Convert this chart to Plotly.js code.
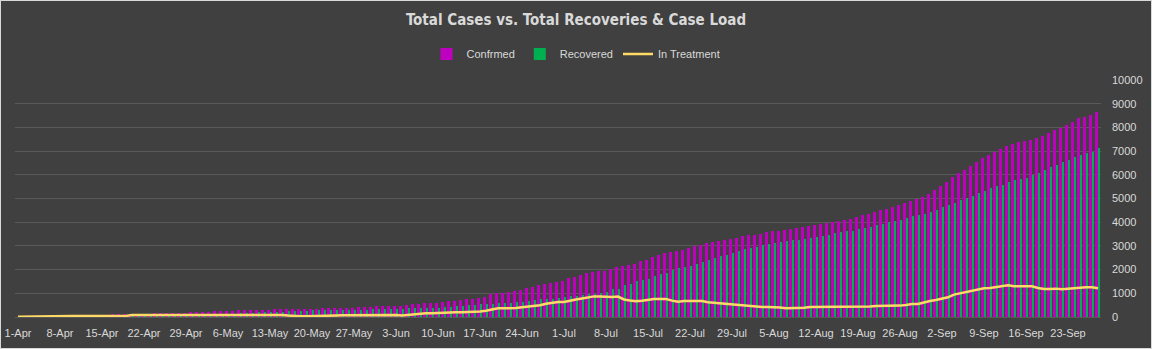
<!DOCTYPE html>
<html>
<head>
<meta charset="utf-8">
<script src="https://cdn.plot.ly/plotly-3.0.1.min.js"></script>
<style>
html,body{margin:0;padding:0;background:#404040;}
#wrap{position:relative;width:1152px;height:349px;}
#chart{width:1152px;height:349px;}
#frame{position:absolute;left:0;top:0;width:1152px;height:349px;box-sizing:border-box;border:1px solid #d9d9d9;pointer-events:none;}
.barlayer .point path{shape-rendering:crispEdges;}
</style>
</head>
<body>
<div id="wrap"><div id="chart"></div><div id="frame"></div></div>
<script>
// Daily series, 1-Apr .. 28-Sep
const startDate = {year: 2020, month: 3, day: 1}; // month 0-based: April
const dayCount = 181;
const monthNames = ['Jan','Feb','Mar','Apr','May','Jun','Jul','Aug','Sep','Oct','Nov','Dec'];

const confirmed = [
8,8,9,10,10,12,14,20,40,45,
50,52,55,58,60,100,110,112,115,140,
142,145,145,148,150,155,180,185,190,195,
200,210,225,235,242,250,265,275,282,288,
295,305,312,318,322,326,330,335,340,348,
355,362,368,375,380,388,398,408,418,440,
450,455,458,462,480,495,530,560,575,585,
612,628,660,695,712,740,755,790,865,950,
1000,1030,1050,1085,1130,1205,1255,1330,1380,1424,
1466,1508,1635,1677,1762,1846,1889,1931,1950,2015,
2100,2142,2184,2227,2353,2396,2522,2607,2691,2734,
2776,2818,2902,2987,3029,3114,3156,3198,3240,3283,
3325,3410,3452,3460,3494,3579,3621,3630,3663,3705,
3748,3790,3832,3874,3917,3959,4001,4043,4086,4128,
4212,4297,4339,4423,4508,4550,4635,4719,4804,4888,
4960,5057,5184,5353,5522,5691,5902,6057,6198,6367,
6536,6705,6832,6973,7085,7212,7297,7381,7437,7480,
7550,7635,7762,7889,7973,8100,8227,8396,8438,8523,
8650];

const recovered = [
0,0,0,0,1,1,2,2,3,4,
6,8,10,12,15,18,20,22,25,30,
35,40,42,45,48,50,52,55,58,60,
70,80,90,100,110,120,135,150,165,180,
195,200,210,220,230,240,250,260,270,278,
282,286,290,294,298,302,306,310,316,322,
324,326,328,330,335,360,365,368,370,375,
400,410,415,445,455,490,498,530,538,545,
575,580,590,615,625,660,700,740,750,760,
790,832,870,880,917,955,965,1001,1044,1165,
1175,1339,1381,1508,1550,1593,1719,1804,1846,1973,
2058,2100,2142,2227,2311,2396,2480,2565,2607,2691,
2776,2860,2902,2945,3029,3071,3114,3156,3198,3235,
3245,3283,3325,3367,3410,3452,3536,3579,3615,3625,
3705,3748,3790,3874,3917,4001,4043,4086,4170,4255,
4297,4339,4423,4508,4635,4719,4804,4930,5015,5100,
5226,5311,5438,5522,5564,5691,5776,5818,5860,5987,
6071,6198,6325,6409,6536,6621,6747,6832,6916,6958,
7128];

const inTreatment = [
7,7,8,9,8,10,11,15,35,38,
40,42,42,43,43,45,45,45,45,85,
85,88,90,90,92,92,95,95,95,95,
95,95,100,100,100,100,100,100,100,100,
100,95,95,90,85,60,40,35,35,35,
35,35,40,60,70,70,80,80,90,101,
101,101,101,80,59,90,114,140,156,156,
170,190,199,199,199,199,199,230,260,300,
368,368,368,380,410,430,460,494,560,600,
634,634,700,740,780,830,870,860,845,845,
860,740,700,670,690,740,760,760,760,690,
640,670,676,676,670,620,595,591,550,524,
510,480,450,430,423,423,423,400,370,368,
368,390,423,423,423,423,423,423,423,423,
423,423,440,465,465,465,465,480,507,549,
549,620,676,718,790,832,945,1000,1042,1113,
1170,1212,1225,1254,1296,1339,1296,1296,1296,1296,
1225,1183,1183,1197,1170,1197,1212,1254,1254,1254,
1212];

const yTicks = [0,1000,2000,3000,4000,5000,6000,7000,8000,9000,10000];
const yTickText = ['0','1000','2000','3000','4000','5000','6000','7000','8000','9000','10000'];

// category labels (d-Mon)
const days = [];
for (let i = 0; i < dayCount; i++) {
  const d = new Date(startDate.year, startDate.month, startDate.day + i);
  days.push(d.getDate() + '-' + monthNames[d.getMonth()]);
}
const tickLabels = days.filter((_, i) => i % 7 === 0);

const txt = '#d9d9d9';
const traces = [
  {type:'bar', name:'Confrmed', x:days, y:confirmed, marker:{color:'#c000c0', line:{width:0}}, width:0.5, offset:-0.5},
  {type:'bar', name:'Recovered', x:days, y:recovered, marker:{color:'#00b050', line:{width:0}}, width:1/3, offset:0},
  {type:'scatter', mode:'lines', name:'In Treatment', x:days, y:inTreatment, line:{color:'#ffd966', width:2.5}}
];

const layout = {
  width:1152, height:349,
  paper_bgcolor:'#404040', plot_bgcolor:'#404040',
  margin:{l:15, r:51, t:80, b:32},
  barmode:'overlay',
  showlegend:true,
  title:{text:'Total Cases vs. Total Recoveries & Case Load', x:0.5, xref:'container', y:1-20/349, yref:'container', yanchor:'middle',
         font:{family:'"Liberation Sans Narrow", "DejaVu Sans Condensed", Arial, sans-serif', size:15, color:txt, weight:'bold'}},
  legend:{orientation:'h', xref:'container', x:0.5, xanchor:'center', yref:'container', y:1-54/349, yanchor:'middle',
          font:{family:'"Liberation Sans", Arial, sans-serif', size:11, color:txt}, bgcolor:'rgba(0,0,0,0)', itemwidth:30, tracegroupgap:0},
  xaxis:{type:'category', tickmode:'array', tickvals:tickLabels, ticktext:tickLabels, range:[-0.5, dayCount-0.5],
         showgrid:false, zeroline:false, showline:false, ticks:'', tickangle:0, ticklabelstandoff:8,
         tickfont:{family:'"Liberation Sans", Arial, sans-serif', size:11, color:txt}},
  yaxis:{side:'right', range:[0,10000], tickmode:'array', tickvals:yTicks, ticktext:yTickText, ticks:'', ticklabelstandoff:10,
         showgrid:true, gridcolor:'#595959', gridwidth:1, zeroline:true, zerolinecolor:'#595959', zerolinewidth:1, showline:false,
         tickfont:{family:'"Liberation Sans", Arial, sans-serif', size:11, color:txt}},
  hovermode:false
};

Plotly.newPlot('chart', traces, layout, {displayModeBar:false, staticPlot:true});
</script>
</body>
</html>
